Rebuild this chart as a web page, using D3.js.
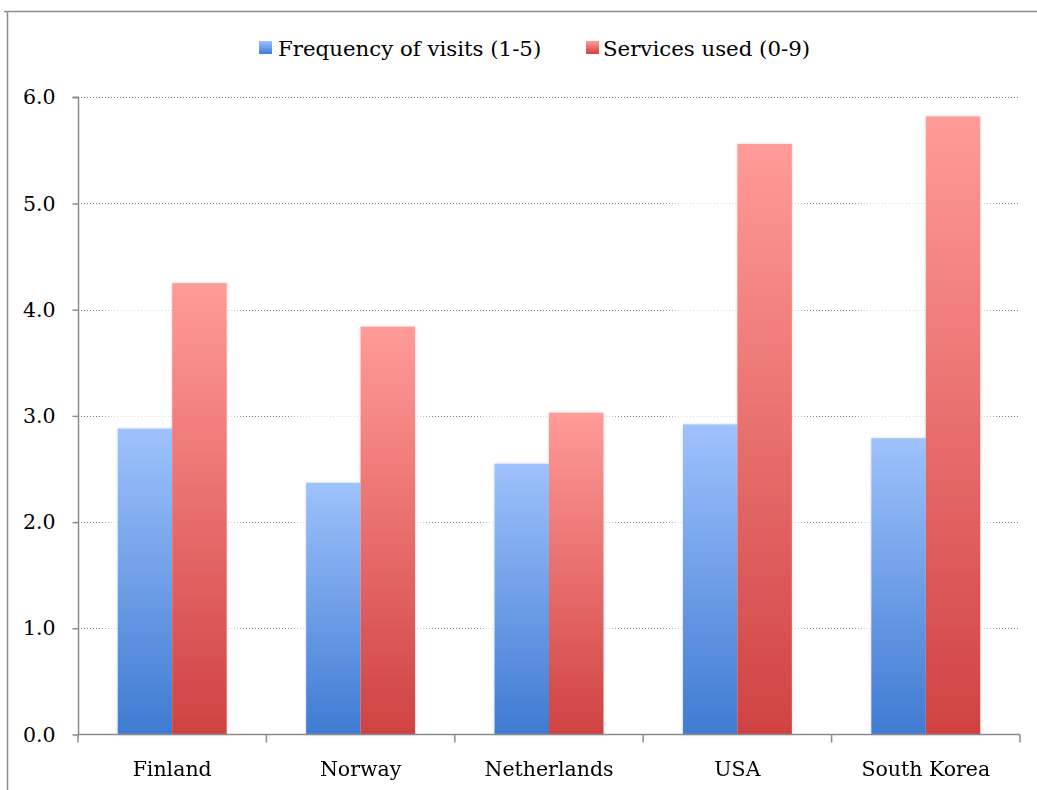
<!DOCTYPE html>
<html>
<head>
<meta charset="utf-8">
<script src="https://cdn.jsdelivr.net/npm/d3@7"></script>
<style>
  html, body { margin: 0; padding: 0; background: #fff; }
  svg { display: block; }
  text { font-family: "DejaVu Serif", serif; fill: #000; }
</style>
</head>
<body>
<script>
const categories = ["Finland", "Norway", "Netherlands", "USA", "South Korea"];
const seriesNames = ["Frequency of visits (1-5)", "Services used (0-9)"];
const frequencyValues = [2.88, 2.37, 2.55, 2.92, 2.79];
const servicesValues = [4.25, 3.84, 3.03, 5.56, 5.82];
const yTicks = [0, 1, 2, 3, 4, 5, 6];

(function () {
const W = 1037, H = 790;
const svg = d3.select("body").append("svg").attr("width", W).attr("height", H);

const defs = svg.append("defs");
const grads = [
  { id: "gBlue", top: "#9ec2fc", bottom: "#3f7bd2" },
  { id: "gRed", top: "#ff9b98", bottom: "#d04242" }
];
grads.forEach(g => {
  const lg = defs.append("linearGradient").attr("id", g.id)
    .attr("x1", 0).attr("y1", 0).attr("x2", 0).attr("y2", 1);
  lg.append("stop").attr("offset", "0%").attr("stop-color", g.top);
  lg.append("stop").attr("offset", "100%").attr("stop-color", g.bottom);
});
const blur = defs.append("filter").attr("id", "glow")
  .attr("x", "-50%").attr("y", "-10%").attr("width", "200%").attr("height", "120%");
blur.append("feGaussianBlur").attr("stdDeviation", 5);
const sh = defs.append("filter").attr("id", "shadow")
  .attr("x", "-20%").attr("y", "-5%").attr("width", "140%").attr("height", "110%");
sh.append("feDropShadow").attr("dx", 0).attr("dy", 0).attr("stdDeviation", 1.5)
  .attr("flood-color", "#000").attr("flood-opacity", 0.18);

// outer frame
svg.append("path")
  .attr("d", `M4,11.5 H${W + 5} M7.5,11.5 V${H + 5}`)
  .attr("stroke", "#8c8c8c").attr("stroke-width", 1.5).attr("fill", "none");

const pLeft = 78, pRight = 1020, pTop = 97.3, pBottom = 734.5;

const x = d3.scaleBand().domain(categories).range([pLeft, pRight]).padding(0);
const xInner = d3.scaleBand().domain(seriesNames).range([0, x.bandwidth()]).paddingOuter(0.73).paddingInner(0);
const y = d3.scaleLinear().domain([0, 6]).range([pBottom, pTop]);

// gridlines
svg.append("g").selectAll("line").data(yTicks.filter(d => d > 0)).join("line")
  .attr("x1", pLeft).attr("x2", pRight)
  .attr("y1", d => Math.round(y(d)) + 0.5).attr("y2", d => Math.round(y(d)) + 0.5)
  .attr("stroke", "#7a7a7a").attr("stroke-width", 1).attr("stroke-dasharray", "1,2");

const rows = categories.map((c, i) => ({ cat: c, vals: [frequencyValues[i], servicesValues[i]] }));

// soft glow behind bars (lightens gridlines nearby)
const glowG = svg.append("g").attr("filter", "url(#glow)");
rows.forEach(r => {
  const maxV = d3.max(r.vals);
  glowG.append("rect")
    .attr("x", x(r.cat) + xInner(seriesNames[0]) - 12)
    .attr("y", y(maxV) - 4)
    .attr("width", xInner.bandwidth() * 2 + 24)
    .attr("height", pBottom - y(maxV) + 4)
    .attr("fill", "#fff").attr("opacity", 0.75);
});

// bars
const barsG = svg.append("g").attr("filter", "url(#shadow)");
const groups = barsG.selectAll("g").data(rows).join("g")
  .attr("transform", d => `translate(${x(d.cat)},0)`);
groups.selectAll("rect").data(d => d.vals.map((v, j) => ({ key: seriesNames[j], v, j }))).join("rect")
  .attr("x", d => xInner(d.key))
  .attr("y", d => y(d.v))
  .attr("width", xInner.bandwidth())
  .attr("height", d => pBottom - y(d.v))
  .attr("fill", d => d.j === 0 ? "url(#gBlue)" : "url(#gRed)");

// y axis
const yAxis = d3.axisLeft(y).tickValues(yTicks).tickFormat(d3.format(".1f")).tickSize(6).tickPadding(17);
const yg = svg.append("g").attr("transform", `translate(${pLeft + 0.5},0)`).call(yAxis);
yg.select(".domain").attr("stroke", "#8c8c8c").attr("stroke-width", 1.5).attr("d", `M-6,${pTop}H0V${pBottom}`);
yg.selectAll(".tick line").attr("stroke", "#8c8c8c").attr("stroke-width", 1.5);
yg.selectAll(".tick text").style("font-family", '"DejaVu Serif", serif').style("font-size", "20.5px").attr("fill", "#000");

// x axis
const xBoundaries = categories.map(c => x(c)).concat([pRight]);
const xg = svg.append("g").attr("transform", `translate(0,${pBottom})`);
xg.append("line").attr("x1", pLeft).attr("x2", pRight).attr("y1", 0).attr("y2", 0)
  .attr("stroke", "#8c8c8c").attr("stroke-width", 1.5);
xg.selectAll("line.tk").data(xBoundaries).join("line").attr("class", "tk")
  .attr("x1", d => d).attr("x2", d => d).attr("y1", 0).attr("y2", 8)
  .attr("stroke", "#8c8c8c").attr("stroke-width", 1.5);
xg.selectAll("text").data(categories).join("text")
  .attr("x", d => x(d) + x.bandwidth() / 2)
  .attr("y", 41)
  .attr("text-anchor", "middle")
  .style("font-size", "20.5px")
  .text(d => d);

// legend
const legend = [
  { name: seriesNames[0], fill: "url(#gBlue)", sx: 259, tx: 278 },
  { name: seriesNames[1], fill: "url(#gRed)", sx: 586, tx: 603 }
];
const lg = svg.append("g");
legend.forEach(l => {
  lg.append("rect").attr("x", l.sx).attr("y", 41).attr("width", 13).attr("height", 13).attr("fill", l.fill);
  lg.append("text").attr("x", l.tx).attr("y", 56).style("font-size", "21.3px").text(l.name);
});
})();
</script>
</body>
</html>
